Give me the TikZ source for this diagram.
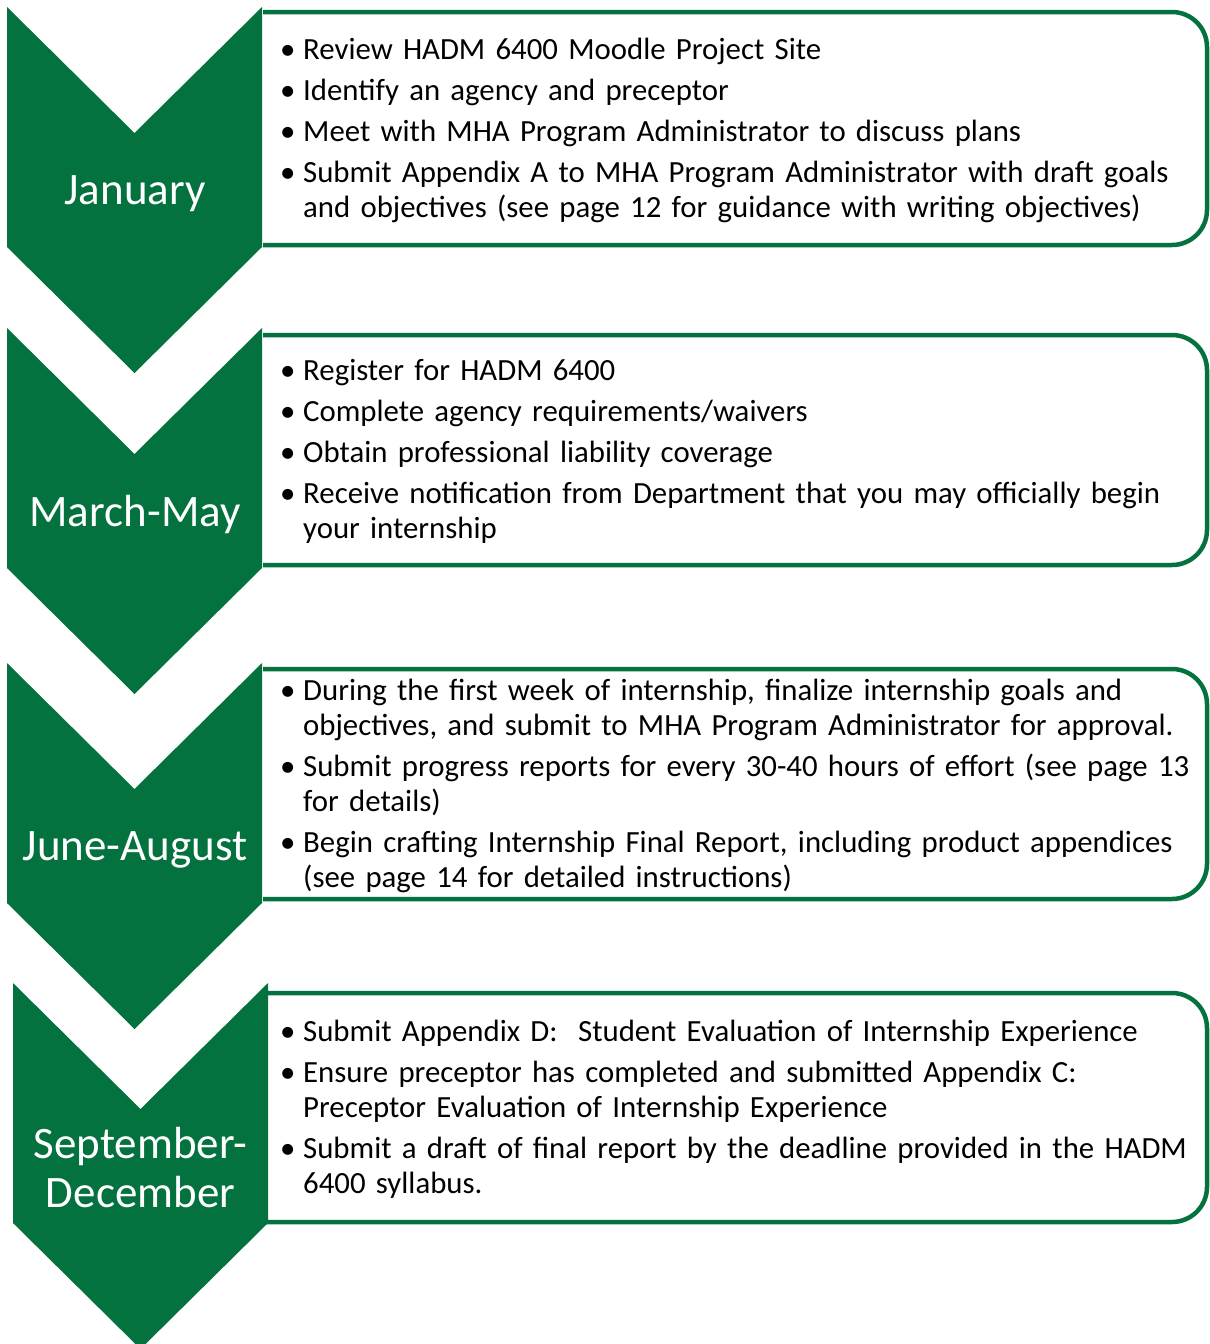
\documentclass[tikz,border=0pt]{standalone}
\usepackage{fontspec}
\setmainfont{Carlito}
\usepackage{tikz}
\definecolor{mhagreen}{RGB}{3,114,62}
\newcommand{\bitem}[1]{\hangindent=23pt\hangafter=1\noindent\makebox[23pt][l]{\textbullet}#1\par}
\newcommand{\brk}{\hfil\break}

\begin{document}
\begin{tikzpicture}[x=1pt,y=-1pt,
   tbox/.style={draw=mhagreen,line width=4.5pt,fill=white,rounded corners=35pt},
   mlabel/.style={text=white,font=\fontsize{45}{49}\selectfont,align=center,inner sep=0pt},
   txt/.style={anchor=west,text width=980pt,align=left,inner sep=0pt,font={\fontsize{30.8}{35}\selectfont\parskip=6pt}}]
\useasboundingbox (0,0) rectangle (1210,1344);
\foreach \t/\b in %
{12/245,335/565,669/899,993/1222} {
   \draw[tbox] (263,\t) -- (1207,\t) -- (1207,\b) -- (263,\b);
}
\foreach \x/\y in %
{7/7,7/328,7/663,13/983} {
   \fill[mhagreen] (\x,\y) -- ++(127.5,126) -- ++(127.5,-126) -- ++(0,240)
      -- ++(-127.5,126) -- ++(-127.5,-126) -- cycle;
}
\node[mlabel] (jan) at (135,194) {January};
\node[mlabel] (mar) at (135,514) {March-May};
\node[mlabel] (jun) at (135,850) {June-August};
\node[mlabel] (sep) at (140.5,1168) {September-\\December};
\node[txt] (jantxt) at (280,130.5) {%
   \bitem{Review HADM 6400 Moodle Project Site}
   \bitem{Identify an agency and preceptor}
   \bitem{Meet with MHA Program Administrator to discuss plans}
   \bitem{Submit Appendix A to MHA Program Administrator with draft goals\brk and objectives (see page 12 for guidance with writing objectives)}};
\node[txt] (martxt) at (280,451.5) {%
   \bitem{Register for HADM 6400}
   \bitem{Complete agency requirements/waivers}
   \bitem{Obtain professional liability coverage}
   \bitem{Receive notification from Department that you may officially begin\brk your internship}};
\node[txt] (juntxt) at (280,786) {%
   \bitem{During the first week of internship, finalize internship goals and\brk objectives, and submit to MHA Program Administrator for approval.}
   \bitem{Submit progress reports for every 30-40 hours of effort (see page 13\brk for details)}
   \bitem{Begin crafting Internship Final Report, including product appendices\brk (see page 14 for detailed instructions)}};
\node[txt] (septxt) at (280,1109.5) {%
   \bitem{Submit Appendix D:\ \ Student Evaluation of Internship Experience}
   \bitem{Ensure preceptor has completed and submitted Appendix C:\brk Preceptor Evaluation of Internship Experience}
   \bitem{Submit a draft of final report by the deadline provided in the HADM\brk 6400 syllabus.}};
\end{tikzpicture}
\end{document}
